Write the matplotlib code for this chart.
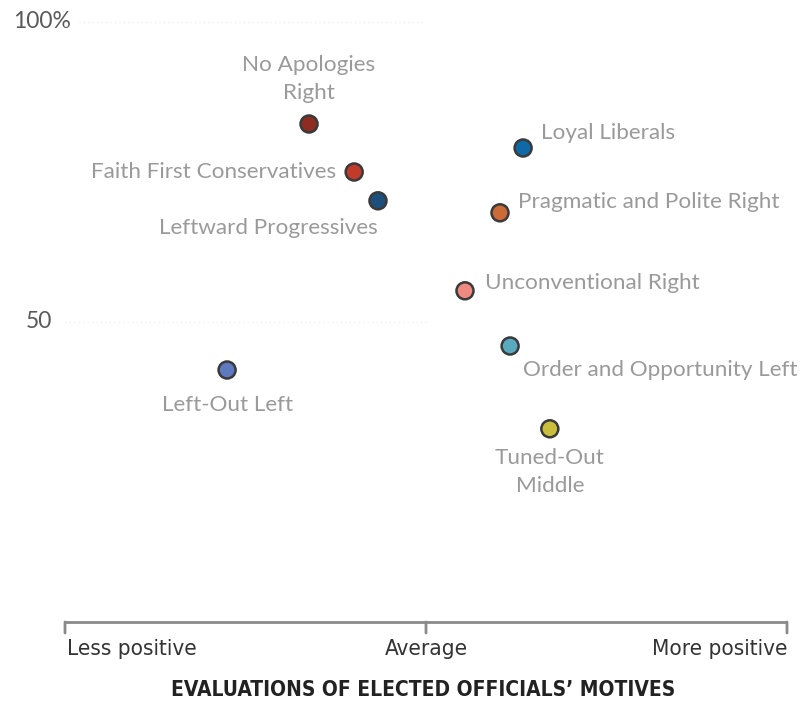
import matplotlib
matplotlib.use("Agg")
import matplotlib.pyplot as plt
from matplotlib import font_manager

names = ["No Apologies\nRight", "Faith First Conservatives", "Leftward Progressives",
         "Loyal Liberals", "Pragmatic and Polite Right", "Unconventional Right",
         "Order and Opportunity Left", "Left-Out Left", "Tuned-Out\nMiddle"]
# x: evaluation of officials' motives (-1 less positive .. 1 more positive)
motives = [-0.324, -0.199, -0.133, 0.269, 0.205, 0.108, 0.233, -0.551, 0.343]
# y: percent
pct = [83.0, 75.0, 70.2, 79.0, 68.2, 55.2, 46.0, 42.0, 32.2]
colors = ["#8e2c20", "#c23a2a", "#1c4f7c", "#0d6aa6", "#cc6a38", "#ee8a7f",
          "#5aaabf", "#5f79c0", "#c9bf3c"]
# label offsets in pixels and alignment
offsets = [(0, 45, "center"), (-18, 0, "right"), (0, -27, "right"), (18, 15, "left"),
           (18, 11, "left"), (20, 8, "left"), (13, -24, "left"), (0, -35, "center"),
           (0, -43, "center")]

avail = {f.name for f in font_manager.fontManager.ttflist}
narrow = "Liberation Sans Narrow" if "Liberation Sans Narrow" in avail else "DejaVu Sans"
label_font = "Lato" if "Lato" in avail else "DejaVu Sans"

fig = plt.figure(figsize=(8, 7.01), dpi=100)
ax = fig.add_axes([65 / 800, (701 - 622) / 701, (787 - 65) / 800, 600 / 701])
ax.set_xlim(-1, 1)
ax.set_ylim(0, 100)
ax.axis("off")

# faint gridlines
ax.plot([-0.96, 0], [100, 100], color="#ececec", lw=0.8, ls=(0, (1, 3)), zorder=0)
ax.plot([-1, 0], [50, 50], color="#ececec", lw=0.8, ls=(0, (1, 3)), zorder=0)

ax.scatter(motives, pct, s=150, c=colors, edgecolors="#3a3a3a", linewidths=1.8,
           zorder=3, clip_on=False)

for name, x, y, (dx, dy, ha) in zip(names, motives, pct, offsets):
    ax.annotate(name, (x, y), xytext=(dx, dy), textcoords="offset pixels",
                ha=ha, va="center", fontsize=16.2, color="#9a9a9a",
                family=label_font, linespacing=1.5)

# y labels
ax.annotate("100%", (-1, 100), xytext=(-52, 0), textcoords="offset pixels",
            ha="left", va="center", fontsize=16.5, color="#5a5a5a", family=label_font)
ax.annotate("50", (-1, 50), xytext=(-13, 0), textcoords="offset pixels",
            ha="right", va="center", fontsize=16.5, color="#5a5a5a", family=label_font)

# bracket axis
ax.plot([-1, 1], [0, 0], color="#8a8a8a", lw=2, clip_on=False, solid_capstyle="butt")
for t in [-1, 0, 1]:
    ax.annotate("", (t, 0), xytext=(0, -11), textcoords="offset pixels",
                arrowprops=dict(arrowstyle="-", color="#8a8a8a", lw=2,
                                shrinkA=0, shrinkB=0))

tick_labels = ["Less positive", "Average", "More positive"]
tick_pos = [-1, 0, 1]
tick_ha = ["left", "center", "right"]
for lab, t, ha in zip(tick_labels, tick_pos, tick_ha):
    ax.annotate(lab, (t, 0), xytext=(2 if ha == "left" else 0, -27), textcoords="offset pixels",
                ha=ha, va="center", fontsize=16.1, color="#333333", family=narrow,
                fontstretch="condensed")

fig.text(423 / 800, 1 - 690 / 701, "EVALUATIONS OF ELECTED OFFICIALS\u2019 MOTIVES",
         ha="center", va="center", fontsize=15, fontweight="bold", color="#222222",
         family=narrow, fontstretch="condensed")

fig.savefig("out.png", dpi=100)
